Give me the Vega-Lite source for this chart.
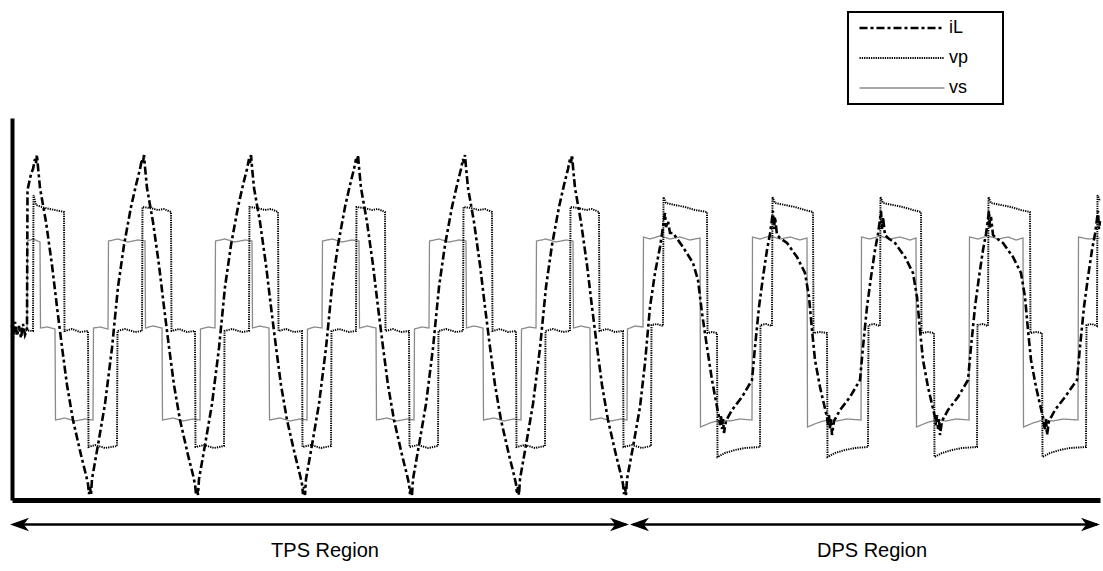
{
"$schema":"https://vega.github.io/schema/vega-lite/v6.json",
"width":1088,"height":382,
"autosize":{"type":"none"},
"padding":{"left":12,"top":118,"right":3,"bottom":71},
"background":"white",
"config":{"view":{"stroke":null},"font":"Liberation Sans"},
"datasets":{
"wave":[
{"s":"vs","x":12,"v":0},{"s":"vs","x":20,"v":1},{"s":"vs","x":27,"v":0},{"s":"vs","x":27.5,"v":88},{"s":"vs","x":33,"v":90},{"s":"vs","x":40,"v":87},{"s":"vs","x":40.5,"v":1},{"s":"vs","x":47,"v":2},{"s":"vs","x":55,"v":0},{"s":"vs","x":55.5,"v":-91},{"s":"vs","x":65,"v":-89},{"s":"vs","x":75,"v":-92},{"s":"vs","x":85,"v":-90},{"s":"vs","x":93,"v":-91},{"s":"vs","x":93.5,"v":1},{"s":"vs","x":100,"v":2},{"s":"vs","x":108,"v":0},
{"s":"vs","x":108.5,"v":88},{"s":"vs","x":118,"v":90},{"s":"vs","x":128,"v":87},{"s":"vs","x":138,"v":89},{"s":"vs","x":145,"v":88},{"s":"vs","x":145.5,"v":1},{"s":"vs","x":153,"v":3},{"s":"vs","x":162,"v":1},{"s":"vs","x":162.5,"v":-91},{"s":"vs","x":173,"v":-89},{"s":"vs","x":183,"v":-92},{"s":"vs","x":193,"v":-90},{"s":"vs","x":200,"v":-91},{"s":"vs","x":200.5,"v":0},{"s":"vs","x":208,"v":2},{"s":"vs","x":215,"v":1},
{"s":"vs","x":215.5,"v":88},{"s":"vs","x":225,"v":90},{"s":"vs","x":235,"v":87},{"s":"vs","x":245,"v":89},{"s":"vs","x":252,"v":88},{"s":"vs","x":252.5,"v":1},{"s":"vs","x":260,"v":3},{"s":"vs","x":269,"v":1},{"s":"vs","x":269.5,"v":-91},{"s":"vs","x":280,"v":-89},{"s":"vs","x":290,"v":-92},{"s":"vs","x":300,"v":-90},{"s":"vs","x":307,"v":-91},{"s":"vs","x":307.5,"v":0},{"s":"vs","x":315,"v":2},{"s":"vs","x":322,"v":1},
{"s":"vs","x":322.5,"v":88},{"s":"vs","x":332,"v":90},{"s":"vs","x":342,"v":87},{"s":"vs","x":352,"v":89},{"s":"vs","x":359,"v":88},{"s":"vs","x":359.5,"v":1},{"s":"vs","x":367,"v":3},{"s":"vs","x":376,"v":1},{"s":"vs","x":376.5,"v":-91},{"s":"vs","x":387,"v":-89},{"s":"vs","x":397,"v":-92},{"s":"vs","x":407,"v":-90},{"s":"vs","x":414,"v":-91},{"s":"vs","x":414.5,"v":0},{"s":"vs","x":422,"v":2},{"s":"vs","x":429,"v":1},
{"s":"vs","x":429.5,"v":88},{"s":"vs","x":439,"v":90},{"s":"vs","x":449,"v":87},{"s":"vs","x":459,"v":89},{"s":"vs","x":466,"v":88},{"s":"vs","x":466.5,"v":1},{"s":"vs","x":474,"v":3},{"s":"vs","x":483,"v":1},{"s":"vs","x":483.5,"v":-91},{"s":"vs","x":494,"v":-89},{"s":"vs","x":504,"v":-92},{"s":"vs","x":514,"v":-90},{"s":"vs","x":521,"v":-91},{"s":"vs","x":521.5,"v":0},{"s":"vs","x":529,"v":2},{"s":"vs","x":536,"v":1},
{"s":"vs","x":536.5,"v":88},{"s":"vs","x":546,"v":90},{"s":"vs","x":556,"v":87},{"s":"vs","x":566,"v":89},{"s":"vs","x":573,"v":88},{"s":"vs","x":573.5,"v":1},{"s":"vs","x":581,"v":3},{"s":"vs","x":590,"v":1},{"s":"vs","x":590.5,"v":-91},{"s":"vs","x":601,"v":-89},{"s":"vs","x":611,"v":-92},{"s":"vs","x":621,"v":-90},{"s":"vs","x":627,"v":-91},{"s":"vs","x":627.5,"v":0},{"s":"vs","x":635,"v":3},{"s":"vs","x":643,"v":2},
{"s":"vs","x":643.5,"v":92},{"s":"vs","x":650,"v":90},{"s":"vs","x":660,"v":93},{"s":"vs","x":670,"v":90},{"s":"vs","x":680,"v":92},{"s":"vs","x":690,"v":89},{"s":"vs","x":700,"v":91},{"s":"vs","x":700.5,"v":-98},{"s":"vs","x":710,"v":-94},{"s":"vs","x":720,"v":-91},{"s":"vs","x":730,"v":-92},{"s":"vs","x":740,"v":-90},{"s":"vs","x":752,"v":-91},{"s":"vs","x":752.5,"v":92},{"s":"vs","x":760,"v":90},{"s":"vs","x":770,"v":93},{"s":"vs","x":780,"v":90},{"s":"vs","x":790,"v":92},{"s":"vs","x":800,"v":89},{"s":"vs","x":807,"v":91},{"s":"vs","x":807.5,"v":-98},{"s":"vs","x":817,"v":-94},{"s":"vs","x":827,"v":-91},{"s":"vs","x":837,"v":-92},{"s":"vs","x":847,"v":-90},{"s":"vs","x":861,"v":-91},{"s":"vs","x":861.5,"v":92},{"s":"vs","x":870,"v":90},{"s":"vs","x":880,"v":93},{"s":"vs","x":890,"v":90},{"s":"vs","x":900,"v":92},{"s":"vs","x":910,"v":89},{"s":"vs","x":916,"v":91},{"s":"vs","x":916.5,"v":-98},{"s":"vs","x":926,"v":-94},{"s":"vs","x":936,"v":-91},{"s":"vs","x":946,"v":-92},{"s":"vs","x":956,"v":-90},{"s":"vs","x":969,"v":-91},{"s":"vs","x":969.5,"v":92},{"s":"vs","x":978,"v":90},{"s":"vs","x":988,"v":93},{"s":"vs","x":998,"v":90},{"s":"vs","x":1008,"v":92},{"s":"vs","x":1016,"v":89},{"s":"vs","x":1023,"v":91},{"s":"vs","x":1023.5,"v":-98},{"s":"vs","x":1033,"v":-94},{"s":"vs","x":1043,"v":-91},{"s":"vs","x":1053,"v":-92},{"s":"vs","x":1063,"v":-90},{"s":"vs","x":1078,"v":-91},{"s":"vs","x":1078.5,"v":92},{"s":"vs","x":1088,"v":90},{"s":"vs","x":1100,"v":91},

{"s":"vp","x":12,"v":-2},{"s":"vp","x":22,"v":-1},{"s":"vp","x":33,"v":-2},{"s":"vp","x":33.5,"v":134},{"s":"vp","x":36,"v":124},{"s":"vp","x":45,"v":121},{"s":"vp","x":55,"v":119},{"s":"vp","x":64,"v":117},{"s":"vp","x":64.5,"v":-2},{"s":"vp","x":72,"v":0},{"s":"vp","x":80,"v":-3},{"s":"vp","x":88,"v":-2},{"s":"vp","x":88.5,"v":-118},{"s":"vp","x":95,"v":-116},{"s":"vp","x":105,"v":-119},{"s":"vp","x":117,"v":-117},{"s":"vp","x":117.5,"v":-2},{"s":"vp","x":125,"v":0},{"s":"vp","x":135,"v":-3},{"s":"vp","x":142,"v":-2},
{"s":"vp","x":142.5,"v":122},{"s":"vp","x":150,"v":121},{"s":"vp","x":158,"v":119},{"s":"vp","x":164,"v":120},{"s":"vp","x":171,"v":117},{"s":"vp","x":171.5,"v":-2},{"s":"vp","x":179,"v":0},{"s":"vp","x":187,"v":-3},{"s":"vp","x":195,"v":-2},{"s":"vp","x":195.5,"v":-118},{"s":"vp","x":204,"v":-116},{"s":"vp","x":214,"v":-119},{"s":"vp","x":224,"v":-117},{"s":"vp","x":224.5,"v":-2},{"s":"vp","x":232,"v":0},{"s":"vp","x":242,"v":-3},{"s":"vp","x":249,"v":-2},
{"s":"vp","x":249.5,"v":122},{"s":"vp","x":257,"v":121},{"s":"vp","x":265,"v":119},{"s":"vp","x":271,"v":120},{"s":"vp","x":278,"v":117},{"s":"vp","x":278.5,"v":-2},{"s":"vp","x":286,"v":0},{"s":"vp","x":294,"v":-3},{"s":"vp","x":302,"v":-2},{"s":"vp","x":302.5,"v":-118},{"s":"vp","x":311,"v":-116},{"s":"vp","x":321,"v":-119},{"s":"vp","x":331,"v":-117},{"s":"vp","x":331.5,"v":-2},{"s":"vp","x":339,"v":0},{"s":"vp","x":349,"v":-3},{"s":"vp","x":356,"v":-2},
{"s":"vp","x":356.5,"v":122},{"s":"vp","x":364,"v":121},{"s":"vp","x":372,"v":119},{"s":"vp","x":378,"v":120},{"s":"vp","x":385,"v":117},{"s":"vp","x":385.5,"v":-2},{"s":"vp","x":393,"v":0},{"s":"vp","x":401,"v":-3},{"s":"vp","x":409,"v":-2},{"s":"vp","x":409.5,"v":-118},{"s":"vp","x":418,"v":-116},{"s":"vp","x":428,"v":-119},{"s":"vp","x":438,"v":-117},{"s":"vp","x":438.5,"v":-2},{"s":"vp","x":446,"v":0},{"s":"vp","x":456,"v":-3},{"s":"vp","x":463,"v":-2},
{"s":"vp","x":463.5,"v":122},{"s":"vp","x":471,"v":121},{"s":"vp","x":479,"v":119},{"s":"vp","x":485,"v":120},{"s":"vp","x":492,"v":117},{"s":"vp","x":492.5,"v":-2},{"s":"vp","x":500,"v":0},{"s":"vp","x":508,"v":-3},{"s":"vp","x":516,"v":-2},{"s":"vp","x":516.5,"v":-118},{"s":"vp","x":525,"v":-116},{"s":"vp","x":535,"v":-119},{"s":"vp","x":545,"v":-117},{"s":"vp","x":545.5,"v":-2},{"s":"vp","x":553,"v":0},{"s":"vp","x":563,"v":-3},{"s":"vp","x":570,"v":-2},
{"s":"vp","x":570.5,"v":122},{"s":"vp","x":578,"v":121},{"s":"vp","x":586,"v":119},{"s":"vp","x":592,"v":120},{"s":"vp","x":599,"v":117},{"s":"vp","x":599.5,"v":-2},{"s":"vp","x":607,"v":0},{"s":"vp","x":615,"v":-3},{"s":"vp","x":623,"v":-2},{"s":"vp","x":623.5,"v":-118},{"s":"vp","x":632,"v":-116},{"s":"vp","x":642,"v":-119},{"s":"vp","x":651,"v":-117},{"s":"vp","x":651.5,"v":4},{"s":"vp","x":657,"v":5},{"s":"vp","x":663,"v":3},{"s":"vp","x":663.5,"v":132},{"s":"vp","x":666,"v":126},{"s":"vp","x":675,"v":124},{"s":"vp","x":685,"v":122},{"s":"vp","x":695,"v":119},{"s":"vp","x":707,"v":117},{"s":"vp","x":707.5,"v":-4},{"s":"vp","x":712,"v":-3},{"s":"vp","x":717,"v":-4},{"s":"vp","x":717.5,"v":-128},{"s":"vp","x":725,"v":-124},{"s":"vp","x":735,"v":-121},{"s":"vp","x":745,"v":-119},{"s":"vp","x":760,"v":-118},{"s":"vp","x":760.5,"v":4},{"s":"vp","x":766,"v":5},{"s":"vp","x":772,"v":3},{"s":"vp","x":772.5,"v":132},{"s":"vp","x":775,"v":126},{"s":"vp","x":785,"v":124},{"s":"vp","x":795,"v":122},{"s":"vp","x":805,"v":119},{"s":"vp","x":813,"v":117},{"s":"vp","x":813.5,"v":-4},{"s":"vp","x":820,"v":-3},{"s":"vp","x":827,"v":-4},{"s":"vp","x":827.5,"v":-128},{"s":"vp","x":835,"v":-124},{"s":"vp","x":845,"v":-121},{"s":"vp","x":855,"v":-119},{"s":"vp","x":868,"v":-118},{"s":"vp","x":868.5,"v":4},{"s":"vp","x":874,"v":5},{"s":"vp","x":880,"v":3},{"s":"vp","x":880.5,"v":132},{"s":"vp","x":883,"v":126},{"s":"vp","x":893,"v":124},{"s":"vp","x":903,"v":122},{"s":"vp","x":913,"v":119},{"s":"vp","x":921,"v":117},{"s":"vp","x":921.5,"v":-4},{"s":"vp","x":928,"v":-3},{"s":"vp","x":934,"v":-4},{"s":"vp","x":934.5,"v":-128},{"s":"vp","x":942,"v":-124},{"s":"vp","x":952,"v":-121},{"s":"vp","x":962,"v":-119},{"s":"vp","x":977,"v":-118},{"s":"vp","x":977.5,"v":4},{"s":"vp","x":983,"v":5},{"s":"vp","x":988,"v":3},{"s":"vp","x":988.5,"v":132},{"s":"vp","x":991,"v":126},{"s":"vp","x":1001,"v":124},{"s":"vp","x":1011,"v":122},{"s":"vp","x":1021,"v":119},{"s":"vp","x":1030,"v":117},{"s":"vp","x":1030.5,"v":-4},{"s":"vp","x":1036,"v":-3},{"s":"vp","x":1042,"v":-4},{"s":"vp","x":1042.5,"v":-128},{"s":"vp","x":1050,"v":-124},{"s":"vp","x":1060,"v":-121},{"s":"vp","x":1070,"v":-119},{"s":"vp","x":1086,"v":-118},{"s":"vp","x":1086.5,"v":4},{"s":"vp","x":1092,"v":5},{"s":"vp","x":1097,"v":3},{"s":"vp","x":1097.5,"v":134},{"s":"vp","x":1100,"v":128},

{"s":"iL","x":12,"v":4},{"s":"iL","x":13,"v":-9},{"s":"iL","x":15,"v":7},{"s":"iL","x":17,"v":-7},{"s":"iL","x":19,"v":3},{"s":"iL","x":21,"v":-9},{"s":"iL","x":23,"v":5},{"s":"iL","x":25,"v":-6},{"s":"iL","x":27,"v":-1},{"s":"iL","x":27.5,"v":139},{"s":"iL","x":31,"v":155},{"s":"iL","x":33,"v":160},{"s":"iL","x":35,"v":170},{"s":"iL","x":36,"v":166},{"s":"iL","x":37,"v":174},{"s":"iL","x":38,"v":162},{"s":"iL","x":40,"v":141},{"s":"iL","x":46,"v":107},{"s":"iL","x":52,"v":64},{"s":"iL","x":57,"v":22},{"s":"iL","x":62,"v":-18},{"s":"iL","x":67,"v":-56},{"s":"iL","x":73,"v":-91},{"s":"iL","x":81,"v":-126},{"s":"iL","x":86,"v":-146},{"s":"iL","x":88,"v":-155},{"s":"iL","x":89,"v":-165},{"s":"iL","x":90,"v":-158},{"s":"iL","x":91,"v":-166},{"s":"iL","x":92,"v":-150},{"s":"iL","x":98,"v":-116},{"s":"iL","x":105,"v":-75},{"s":"iL","x":112,"v":-19},{"s":"iL","x":118,"v":42},{"s":"iL","x":124,"v":84},{"s":"iL","x":131,"v":122},{"s":"iL","x":136,"v":144},
{"s":"iL","x":140,"v":160},{"s":"iL","x":142,"v":170},{"s":"iL","x":143,"v":166},{"s":"iL","x":144,"v":174},{"s":"iL","x":145,"v":162},{"s":"iL","x":147,"v":141},{"s":"iL","x":153,"v":107},{"s":"iL","x":159,"v":64},{"s":"iL","x":164,"v":22},{"s":"iL","x":169,"v":-18},{"s":"iL","x":174,"v":-56},{"s":"iL","x":180,"v":-91},{"s":"iL","x":188,"v":-126},{"s":"iL","x":193,"v":-146},{"s":"iL","x":195,"v":-155},{"s":"iL","x":196,"v":-165},{"s":"iL","x":197,"v":-158},{"s":"iL","x":198,"v":-166},{"s":"iL","x":199,"v":-150},{"s":"iL","x":205,"v":-116},{"s":"iL","x":212,"v":-75},{"s":"iL","x":219,"v":-19},{"s":"iL","x":225,"v":42},{"s":"iL","x":231,"v":84},{"s":"iL","x":238,"v":122},{"s":"iL","x":243,"v":144},
{"s":"iL","x":247,"v":160},{"s":"iL","x":249,"v":170},{"s":"iL","x":250,"v":166},{"s":"iL","x":251,"v":174},{"s":"iL","x":252,"v":162},{"s":"iL","x":254,"v":141},{"s":"iL","x":260,"v":107},{"s":"iL","x":266,"v":64},{"s":"iL","x":271,"v":22},{"s":"iL","x":276,"v":-18},{"s":"iL","x":281,"v":-56},{"s":"iL","x":287,"v":-91},{"s":"iL","x":295,"v":-126},{"s":"iL","x":300,"v":-146},{"s":"iL","x":302,"v":-155},{"s":"iL","x":303,"v":-165},{"s":"iL","x":304,"v":-158},{"s":"iL","x":305,"v":-166},{"s":"iL","x":306,"v":-150},{"s":"iL","x":312,"v":-116},{"s":"iL","x":319,"v":-75},{"s":"iL","x":326,"v":-19},{"s":"iL","x":332,"v":42},{"s":"iL","x":338,"v":84},{"s":"iL","x":345,"v":122},{"s":"iL","x":350,"v":144},
{"s":"iL","x":354,"v":160},{"s":"iL","x":356,"v":170},{"s":"iL","x":357,"v":166},{"s":"iL","x":358,"v":174},{"s":"iL","x":359,"v":162},{"s":"iL","x":361,"v":141},{"s":"iL","x":367,"v":107},{"s":"iL","x":373,"v":64},{"s":"iL","x":378,"v":22},{"s":"iL","x":383,"v":-18},{"s":"iL","x":388,"v":-56},{"s":"iL","x":394,"v":-91},{"s":"iL","x":402,"v":-126},{"s":"iL","x":407,"v":-146},{"s":"iL","x":409,"v":-155},{"s":"iL","x":410,"v":-165},{"s":"iL","x":411,"v":-158},{"s":"iL","x":412,"v":-166},{"s":"iL","x":413,"v":-150},{"s":"iL","x":419,"v":-116},{"s":"iL","x":426,"v":-75},{"s":"iL","x":433,"v":-19},{"s":"iL","x":439,"v":42},{"s":"iL","x":445,"v":84},{"s":"iL","x":452,"v":122},{"s":"iL","x":457,"v":144},
{"s":"iL","x":461,"v":160},{"s":"iL","x":463,"v":170},{"s":"iL","x":464,"v":166},{"s":"iL","x":465,"v":174},{"s":"iL","x":466,"v":162},{"s":"iL","x":468,"v":141},{"s":"iL","x":474,"v":107},{"s":"iL","x":480,"v":64},{"s":"iL","x":485,"v":22},{"s":"iL","x":490,"v":-18},{"s":"iL","x":495,"v":-56},{"s":"iL","x":501,"v":-91},{"s":"iL","x":509,"v":-126},{"s":"iL","x":514,"v":-146},{"s":"iL","x":516,"v":-155},{"s":"iL","x":517,"v":-165},{"s":"iL","x":518,"v":-158},{"s":"iL","x":519,"v":-166},{"s":"iL","x":520,"v":-150},{"s":"iL","x":526,"v":-116},{"s":"iL","x":533,"v":-75},{"s":"iL","x":540,"v":-19},{"s":"iL","x":546,"v":42},{"s":"iL","x":552,"v":84},{"s":"iL","x":559,"v":122},{"s":"iL","x":564,"v":144},
{"s":"iL","x":568,"v":160},{"s":"iL","x":570,"v":170},{"s":"iL","x":571,"v":166},{"s":"iL","x":572,"v":174},{"s":"iL","x":573,"v":162},{"s":"iL","x":575,"v":141},{"s":"iL","x":581,"v":107},{"s":"iL","x":587,"v":64},{"s":"iL","x":592,"v":22},{"s":"iL","x":597,"v":-18},{"s":"iL","x":602,"v":-56},{"s":"iL","x":608,"v":-91},{"s":"iL","x":616,"v":-126},{"s":"iL","x":621,"v":-146},{"s":"iL","x":623,"v":-155},{"s":"iL","x":624,"v":-165},{"s":"iL","x":625,"v":-158},{"s":"iL","x":626,"v":-166},{"s":"iL","x":627,"v":-150},{"s":"iL","x":633,"v":-118},{"s":"iL","x":640,"v":-78},{"s":"iL","x":645,"v":-34},{"s":"iL","x":650,"v":22},{"s":"iL","x":655,"v":56},{"s":"iL","x":660,"v":82},{"s":"iL","x":662,"v":95},{"s":"iL","x":664,"v":110},{"s":"iL","x":665,"v":116},{"s":"iL","x":666,"v":102},{"s":"iL","x":668,"v":108},{"s":"iL","x":670,"v":96},{"s":"iL","x":673,"v":96},{"s":"iL","x":683,"v":82},{"s":"iL","x":693,"v":66},{"s":"iL","x":698,"v":49},{"s":"iL","x":702,"v":16},{"s":"iL","x":707,"v":-18},{"s":"iL","x":712,"v":-51},{"s":"iL","x":717,"v":-78},{"s":"iL","x":719,"v":-88},{"s":"iL","x":720,"v":-96},{"s":"iL","x":721,"v":-86},{"s":"iL","x":722,"v":-100},{"s":"iL","x":723,"v":-90},{"s":"iL","x":724,"v":-104},{"s":"iL","x":726,"v":-92},
{"s":"iL","x":732,"v":-81},{"s":"iL","x":742,"v":-68},{"s":"iL","x":752,"v":-51},{"s":"iL","x":755,"v":-18},{"s":"iL","x":759,"v":22},{"s":"iL","x":763,"v":52},{"s":"iL","x":767,"v":79},{"s":"iL","x":770,"v":95},{"s":"iL","x":772,"v":110},{"s":"iL","x":773,"v":118},{"s":"iL","x":774,"v":100},{"s":"iL","x":775,"v":112},{"s":"iL","x":777,"v":94},{"s":"iL","x":780,"v":91},{"s":"iL","x":787,"v":86},{"s":"iL","x":797,"v":72},{"s":"iL","x":805,"v":56},{"s":"iL","x":809,"v":32},{"s":"iL","x":812,"v":-1},{"s":"iL","x":815,"v":-31},{"s":"iL","x":820,"v":-58},{"s":"iL","x":826,"v":-84},
{"s":"iL","x":827,"v":-88},{"s":"iL","x":828,"v":-96},{"s":"iL","x":829,"v":-86},{"s":"iL","x":830,"v":-100},{"s":"iL","x":831,"v":-90},{"s":"iL","x":832,"v":-106},{"s":"iL","x":834,"v":-92},{"s":"iL","x":840,"v":-81},{"s":"iL","x":850,"v":-68},{"s":"iL","x":860,"v":-51},{"s":"iL","x":863,"v":-18},{"s":"iL","x":867,"v":22},{"s":"iL","x":871,"v":52},{"s":"iL","x":875,"v":79},{"s":"iL","x":878,"v":95},{"s":"iL","x":880,"v":110},{"s":"iL","x":881,"v":118},{"s":"iL","x":882,"v":100},{"s":"iL","x":883,"v":112},{"s":"iL","x":885,"v":94},{"s":"iL","x":888,"v":91},{"s":"iL","x":895,"v":86},{"s":"iL","x":905,"v":72},{"s":"iL","x":913,"v":56},{"s":"iL","x":917,"v":32},{"s":"iL","x":920,"v":-1},{"s":"iL","x":923,"v":-31},{"s":"iL","x":928,"v":-58},{"s":"iL","x":934,"v":-84},
{"s":"iL","x":935,"v":-88},{"s":"iL","x":936,"v":-96},{"s":"iL","x":937,"v":-86},{"s":"iL","x":938,"v":-100},{"s":"iL","x":939,"v":-90},{"s":"iL","x":940,"v":-106},{"s":"iL","x":942,"v":-92},{"s":"iL","x":948,"v":-81},{"s":"iL","x":958,"v":-68},{"s":"iL","x":968,"v":-51},{"s":"iL","x":971,"v":-18},{"s":"iL","x":975,"v":22},{"s":"iL","x":979,"v":52},{"s":"iL","x":983,"v":79},{"s":"iL","x":986,"v":95},{"s":"iL","x":988,"v":110},{"s":"iL","x":989,"v":118},{"s":"iL","x":990,"v":100},{"s":"iL","x":991,"v":112},{"s":"iL","x":993,"v":94},{"s":"iL","x":996,"v":91},{"s":"iL","x":1003,"v":86},{"s":"iL","x":1013,"v":72},{"s":"iL","x":1021,"v":56},{"s":"iL","x":1025,"v":32},{"s":"iL","x":1028,"v":-1},{"s":"iL","x":1031,"v":-31},{"s":"iL","x":1036,"v":-58},{"s":"iL","x":1042,"v":-84},
{"s":"iL","x":1043,"v":-88},{"s":"iL","x":1044,"v":-96},{"s":"iL","x":1045,"v":-100},{"s":"iL","x":1046,"v":-90},{"s":"iL","x":1047,"v":-106},{"s":"iL","x":1049,"v":-92},{"s":"iL","x":1055,"v":-81},{"s":"iL","x":1065,"v":-68},{"s":"iL","x":1077,"v":-51},{"s":"iL","x":1080,"v":-18},{"s":"iL","x":1084,"v":22},{"s":"iL","x":1088,"v":52},{"s":"iL","x":1092,"v":79},{"s":"iL","x":1095,"v":95},{"s":"iL","x":1097,"v":110},{"s":"iL","x":1098,"v":118},{"s":"iL","x":1099,"v":100},{"s":"iL","x":1100,"v":108}
],
"arrows":[{"a":14,"b":626,"v":-195.5},{"a":633,"b":1097,"v":-195.5}],
"heads":[{"x":19.5,"v":-195.5,"dir":"left"},{"x":619.5,"v":-195.5,"dir":"right"},{"x":639.5,"v":-195.5,"dir":"left"},{"x":1090.5,"v":-195.5,"dir":"right"}],
"labels":[{"x":325,"v":-228,"t":"TPS Region"},{"x":872,"v":-228,"t":"DPS Region"}]
},
"layer":[
{"data":{"name":"wave"},
 "mark":{"type":"line","interpolate":"linear"},
 "encoding":{
  "x":{"field":"x","type":"quantitative","scale":{"domain":[12,1100],"nice":false,"zero":false},"axis":{"domain":true,"domainColor":"black","domainWidth":5,"ticks":false,"labels":false,"grid":false,"title":null}},
  "y":{"field":"v","type":"quantitative","scale":{"domain":[-171,211],"nice":false,"zero":false},"axis":{"domain":true,"domainColor":"black","domainWidth":4,"ticks":false,"labels":false,"grid":false,"title":null}},
  "color":{"field":"s","type":"nominal","scale":{"domain":["iL","vp","vs"],"range":["#000000","#000000","#8a8a8a"]},
   "legend":{"orient":"none","legendX":836,"legendY":-106,"title":"\u00a0","titleOrient":"right","titlePadding":30,"titleFontSize":8,"symbolType":"stroke","symbolSize":7225,"clipHeight":22,"rowPadding":8,"padding":5,"strokeColor":"black","fillColor":"white","labelFont":"Liberation Sans","labelFontSize":18,"labelColor":"black","labelOffset":3,"symbolOffset":5,"encode":{"legend":{"update":{"strokeWidth":{"value":2}}}}}},
  "strokeDash":{"field":"s","type":"nominal","scale":{"domain":["iL","vp","vs"],"range":[[8,3,3,3],[1.3,1],[1,0]]}},
  "strokeWidth":{"field":"s","type":"nominal","scale":{"domain":["iL","vp","vs"],"range":[2.6,1.3,1]}}
 }},
{"data":{"name":"arrows"},
 "mark":{"type":"rule","color":"black","strokeWidth":2.5},
 "encoding":{
  "x":{"field":"a","type":"quantitative","scale":{"domain":[12,1100],"nice":false,"zero":false}},
  "x2":{"field":"b"},
  "y":{"field":"v","type":"quantitative","scale":{"domain":[-171,211],"nice":false,"zero":false}}
 }},
{"data":{"name":"heads"},
 "mark":{"type":"point","filled":true,"color":"black","opacity":1,"size":361},
 "encoding":{
  "x":{"field":"x","type":"quantitative","scale":{"domain":[12,1100],"nice":false,"zero":false}},
  "y":{"field":"v","type":"quantitative","scale":{"domain":[-171,211],"nice":false,"zero":false}},
  "shape":{"field":"dir","type":"nominal","scale":{"domain":["left","right"],"range":["M1,-0.7L-1,0L1,0.7L0.45,0Z","M-1,-0.7L1,0L-1,0.7L-0.45,0Z"]},"legend":null}
 }},
{"data":{"name":"labels"},
 "mark":{"type":"text","font":"Liberation Sans","fontSize":20,"color":"black","align":"center","baseline":"alphabetic"},
 "encoding":{
  "x":{"field":"x","type":"quantitative","scale":{"domain":[12,1100],"nice":false,"zero":false}},
  "y":{"field":"v","type":"quantitative","scale":{"domain":[-171,211],"nice":false,"zero":false}},
  "text":{"field":"t"}
 }}
]
}
